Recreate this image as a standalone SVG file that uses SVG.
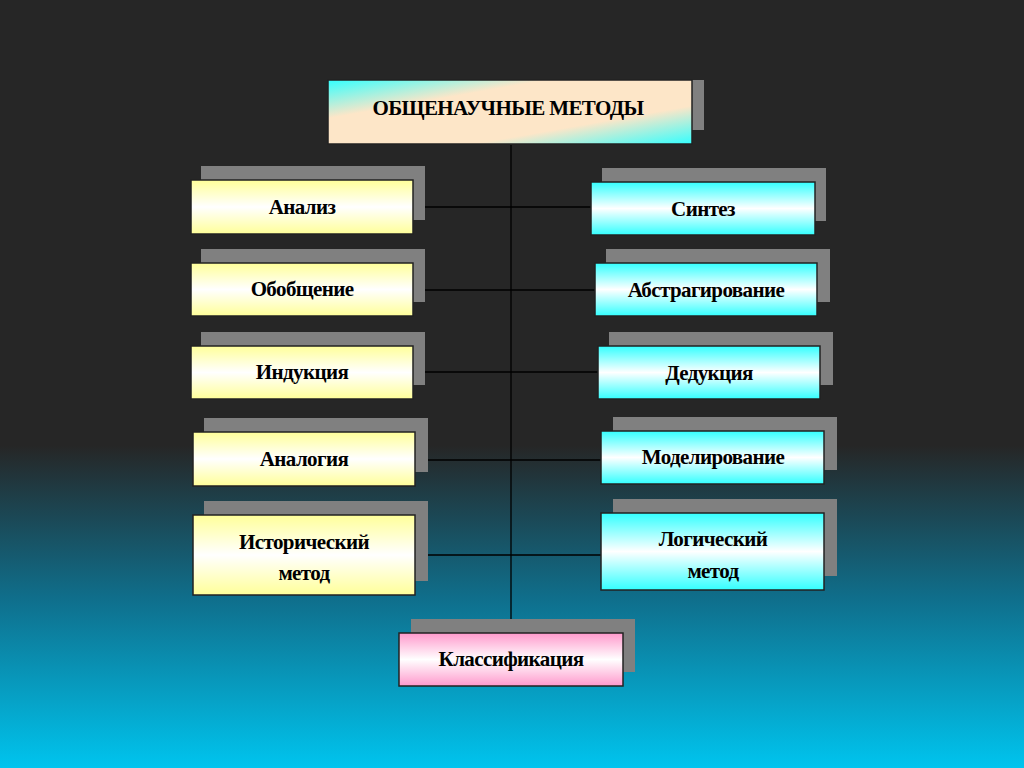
<svg xmlns="http://www.w3.org/2000/svg" width="1024" height="768" viewBox="0 0 1024 768">
<defs>
<linearGradient id="bg" x1="0" y1="0" x2="0" y2="1">
<stop offset="0" stop-color="#262626"/><stop offset="0.58" stop-color="#262626"/><stop offset="0.78" stop-color="#0f6f8c"/><stop offset="1" stop-color="#00c4ee"/>
</linearGradient>
<linearGradient id="gy" x1="0" y1="0" x2="0" y2="1"><stop offset="0" stop-color="#ffff99"/><stop offset="0.5" stop-color="#ffffff"/><stop offset="1" stop-color="#ffff99"/></linearGradient>
<linearGradient id="gc" x1="0" y1="0" x2="0" y2="1"><stop offset="0" stop-color="#33ffff"/><stop offset="0.5" stop-color="#ffffff"/><stop offset="1" stop-color="#33ffff"/></linearGradient>
<linearGradient id="gp" x1="0" y1="0" x2="0" y2="1"><stop offset="0" stop-color="#ff99cc"/><stop offset="0.5" stop-color="#ffffff"/><stop offset="1" stop-color="#ff99cc"/></linearGradient>
<linearGradient id="gt" x1="0" y1="0" x2="1" y2="1"><stop offset="0" stop-color="#33ffff"/><stop offset="0.3" stop-color="#fde6c8"/><stop offset="0.7" stop-color="#fde6c8"/><stop offset="1" stop-color="#33ffff"/></linearGradient>
</defs>
<style>
.sh{fill:#808080}
.bx{stroke:#222;stroke-width:1.5}
.y{fill:url(#gy)}.c{fill:url(#gc)}.p{fill:url(#gp)}
text{font-family:"Liberation Serif",serif;font-weight:bold;font-size:21px;fill:#000;text-anchor:middle;letter-spacing:-0.6px}
.ln{stroke:#000;stroke-width:1.3;fill:none}
</style>
<rect width="1024" height="768" fill="url(#bg)"/>
<g id="connectors">
<path class="ln" d="M511 145V633M413 207H591M413 290H595M413 372H598M415 460H601M415 555H601"/>
</g>
<g id="top"><rect class="sh" x="340" y="80" width="364" height="50"/><rect class="bx" x="328" y="80" width="364" height="64" fill="url(#gt)"/><text x="508" y="115" font-size="23">ОБЩЕНАУЧНЫЕ МЕТОДЫ</text></g>
<g id="analiz"><rect class="sh" x="201" y="166" width="224" height="54"/><rect class="bx y" x="191" y="180" width="222" height="54"/><text x="302" y="214">Анализ</text></g>
<g id="obobshenie"><rect class="sh" x="201" y="249" width="224" height="53"/><rect class="bx y" x="191" y="263" width="222" height="53"/><text x="302" y="296">Обобщение</text></g>
<g id="indukcia"><rect class="sh" x="201" y="332" width="224" height="53"/><rect class="bx y" x="191" y="346" width="222" height="53"/><text x="302" y="379">Индукция</text></g>
<g id="analogia"><rect class="sh" x="204" y="418" width="224" height="54"/><rect class="bx y" x="193" y="432" width="222" height="54"/><text x="304" y="466">Аналогия</text></g>
<g id="istor"><rect class="sh" x="204" y="501" width="224" height="80"/><rect class="bx y" x="193" y="515" width="222" height="80"/><text x="304" y="549">Исторический</text><text x="304" y="580">метод</text></g>
<g id="sintez"><rect class="sh" x="602" y="168" width="224" height="53"/><rect class="bx c" x="591" y="182" width="224" height="53"/><text x="703" y="216">Синтез</text></g>
<g id="abstr"><rect class="sh" x="606" y="249" width="224" height="53"/><rect class="bx c" x="595" y="263" width="222" height="53"/><text x="706" y="297">Абстрагирование</text></g>
<g id="dedukcia"><rect class="sh" x="609" y="332" width="224" height="53"/><rect class="bx c" x="598" y="346" width="222" height="53"/><text x="709" y="380">Дедукция</text></g>
<g id="model"><rect class="sh" x="613" y="417" width="224" height="53"/><rect class="bx c" x="601" y="431" width="223" height="53"/><text x="713" y="464">Моделирование</text></g>
<g id="logich"><rect class="sh" x="613" y="499" width="224" height="77"/><rect class="bx c" x="601" y="513" width="223" height="77"/><text x="713" y="546">Логический</text><text x="713" y="578">метод</text></g>
<g id="klass"><rect class="sh" x="411" y="619" width="224" height="53"/><rect class="bx p" x="399" y="633" width="224" height="53"/><text x="511" y="666">Классификация</text></g>
</svg>
